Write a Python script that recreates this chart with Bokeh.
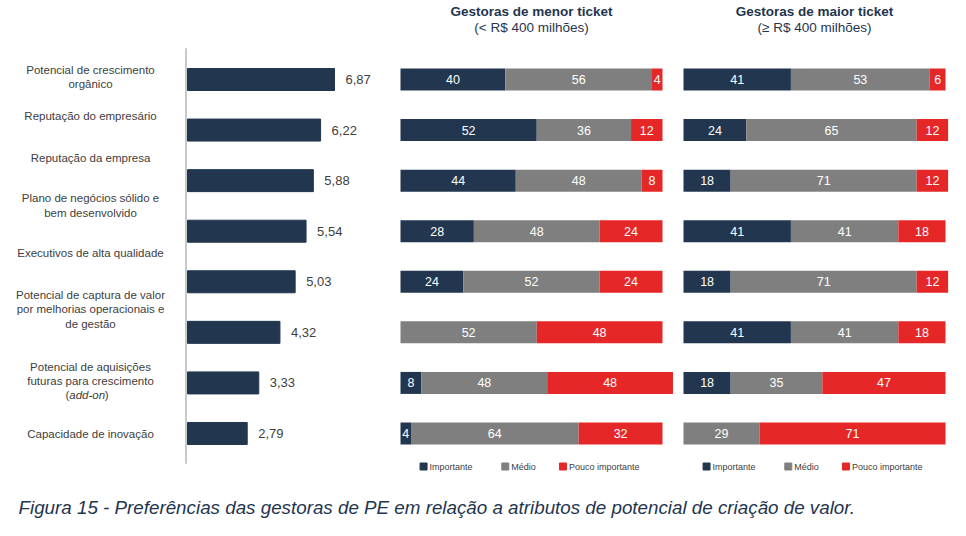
from bokeh.plotting import figure
from bokeh.models import Range1d, ColumnDataSource
from bokeh.core.properties import value
from bokeh.embed import file_html
from bokeh.resources import INLINE
import numpy as np

# ---- data -------------------------------------------------------------
categories = [
    "Potencial de crescimento orgânico",
    "Reputação do empresário",
    "Reputação da empresa",
    "Plano de negócios sólido e bem desenvolvido",
    "Executivos de alta qualidade",
    "Potencial de captura de valor por melhorias operacionais e de gestão",
    "Potencial de aquisições futuras para crescimento (add-on)",
    "Capacidade de inovação",
]
scores = [6.87, 6.22, 5.88, 5.54, 5.03, 4.32, 3.33, 2.79]

levels = ["Importante", "Médio", "Pouco importante"]
menor_importante = [40, 52, 44, 28, 24, 0, 8, 4]
menor_medio = [56, 36, 48, 48, 52, 52, 48, 64]
menor_pouco = [4, 12, 8, 24, 24, 48, 48, 32]
maior_importante = [41, 24, 18, 41, 18, 41, 18, 0]
maior_medio = [53, 65, 71, 41, 71, 41, 35, 29]
maior_pouco = [6, 12, 12, 18, 12, 18, 47, 71]

panel_titles = ["Gestoras de menor ticket", "Gestoras de maior ticket"]
panel_subtitles = ["(< R$ 400 milhões)", "(≥ R$ 400 milhões)"]
caption = ("Figura 15 - Preferências das gestoras de PE em relação a "
           "atributos de potencial de criação de valor.")

# ---- styling / layout --------------------------------------------------
W, H = 966, 536
FONT = "Liberation Sans"
NAVY, GREY, RED = "#22374f", "#7f7f7f", "#e52727"
LEVEL_COLORS = [NAVY, GREY, RED]
TEXT_DARK = "#404040"

ROW_PX, FIRST_ROW_PX = 50.57, 79.0          # row pitch and first row centre
BAR_X0, BAR_PPU = 187.0, 21.4               # score bars: origin px, px per unit
PANEL_X0, PANEL_W = [400.0, 683.0], 262.0   # 100% panels: origin px, width px
BAR_H = 22.0 / ROW_PX

# wrapped category names and their block centres (px)
label_lines = [
    "Potencial de crescimento\norgânico",
    "Reputação do empresário",
    "Reputação da empresa",
    "Plano de negócios sólido e\nbem desenvolvido",
    "Executivos de alta qualidade",
    "Potencial de captura de valor\npor melhorias operacionais e\nde gestão",
    "Potencial de aquisições\nfuturas para crescimento",
    "Capacidade de inovação",
]
label_y = [76.5, 115, 157, 205, 252, 309, 373.5, 433]
legend_x = [8.8, 40.0, 62.0]   # legend swatch positions, in panel percent units

idx = list(range(len(categories)))

p = figure(
    width=W, height=H, output_backend="svg", toolbar_location=None,
    x_axis_type=None, y_axis_type=None, min_border=0,
    x_range=Range1d(-BAR_X0 / BAR_PPU, (W - BAR_X0) / BAR_PPU),
    y_range=Range1d((H - FIRST_ROW_PX) / ROW_PX, -FIRST_ROW_PX / ROW_PX),
)
p.outline_line_color = None
p.background_fill_color = "white"
p.border_fill_color = "white"

p.extra_x_ranges = {
    "px": Range1d(0, W),
    "menor": Range1d(-PANEL_X0[0] * 100 / PANEL_W, (W - PANEL_X0[0]) * 100 / PANEL_W),
    "maior": Range1d(-PANEL_X0[1] * 100 / PANEL_W, (W - PANEL_X0[1]) * 100 / PANEL_W),
}
p.extra_y_ranges = {"px": Range1d(H, 0)}

# ---- category names ----------------------------------------------------
p.text(x=[90] * len(label_lines), y=label_y, text=label_lines,
       x_range_name="px", y_range_name="px",
       text_font=value(FONT), text_font_size="11.5px", text_color=TEXT_DARK,
       text_align="center", text_baseline="middle", text_line_height=1.17)
# "(add-on)" line with the italic term
addon_y = 394.5
p.text(x=[65], y=[addon_y], text=["("], x_range_name="px", y_range_name="px",
       text_font=value(FONT), text_font_size="11.5px", text_color=TEXT_DARK,
       text_align="left", text_baseline="middle")
p.text(x=[68.8], y=[addon_y], text=["add-on"], x_range_name="px", y_range_name="px",
       text_font=value(FONT), text_font_size="11.5px", text_color=TEXT_DARK,
       text_font_style="italic", text_align="left", text_baseline="middle")
p.text(x=[104.2], y=[addon_y], text=[")"], x_range_name="px", y_range_name="px",
       text_font=value(FONT), text_font_size="11.5px", text_color=TEXT_DARK,
       text_align="left", text_baseline="middle")

# ---- average score bars -------------------------------------------------
p.segment(x0=[-0.07], y0=[-0.62], x1=[-0.07], y1=[7.6],
          line_color="#c9c9c9", line_width=2)
p.hbar(y=idx, left=0, right=scores, height=BAR_H, color=NAVY)
p.text(x=scores, y=idx, text=[f"{s:.2f}".replace(".", ",") for s in scores],
       x_offset=11, text_font=value(FONT), text_font_size="13px",
       text_color=TEXT_DARK, text_align="left", text_baseline="middle")

# ---- 100% stacked panels -------------------------------------------------
panels = [
    ("menor", [menor_importante, menor_medio, menor_pouco]),
    ("maior", [maior_importante, maior_medio, maior_pouco]),
]
for k, (name, series) in enumerate(panels):
    src = ColumnDataSource(dict(y=idx, **{lvl: s for lvl, s in zip(levels, series)}))
    p.hbar_stack(levels, y="y", height=BAR_H, color=LEVEL_COLORS,
                 line_color=None, source=src, x_range_name=name)

    vals = np.array(series, dtype=float)
    right = np.cumsum(vals, axis=0)
    left = right - vals
    lx, ly, lt = [], [], []
    for j in range(vals.shape[0]):
        for i in idx:
            if vals[j, i] > 0:
                lx.append((left[j, i] + right[j, i]) / 2)
                ly.append(i)
                lt.append(f"{int(vals[j, i])}")
    p.text(x=lx, y=ly, text=lt, x_range_name=name,
           text_font=value(FONT), text_font_size="12.5px", text_color="white",
           text_align="center", text_baseline="middle")

    # panel headings
    p.text(x=[50], y=[11], text=[panel_titles[k]], x_range_name=name, y_range_name="px",
           text_font=value(FONT), text_font_size="13.5px", text_font_style="bold",
           text_color="#1f3550", text_align="center", text_baseline="middle")
    p.text(x=[50], y=[27], text=[panel_subtitles[k]], x_range_name=name, y_range_name="px",
           text_font=value(FONT), text_font_size="13.5px",
           text_color="#1f3550", text_align="center", text_baseline="middle")

    # legend
    p.scatter(x=legend_x, y=[466] * 3, marker="square", size=7,
              color=LEVEL_COLORS, x_range_name=name, y_range_name="px")
    p.text(x=legend_x, y=[466] * 3, text=levels, x_offset=6,
           x_range_name=name, y_range_name="px",
           text_font=value(FONT), text_font_size="9px", text_color=TEXT_DARK,
           text_align="left", text_baseline="middle")

# ---- caption -------------------------------------------------------------
p.text(x=[18], y=[507], text=[caption], x_range_name="px", y_range_name="px",
       text_font=value(FONT), text_font_size="18.8px", text_font_style="italic",
       text_color="#1f3550", text_align="left", text_baseline="middle")

open("out.html", "w").write(file_html(p, INLINE))
